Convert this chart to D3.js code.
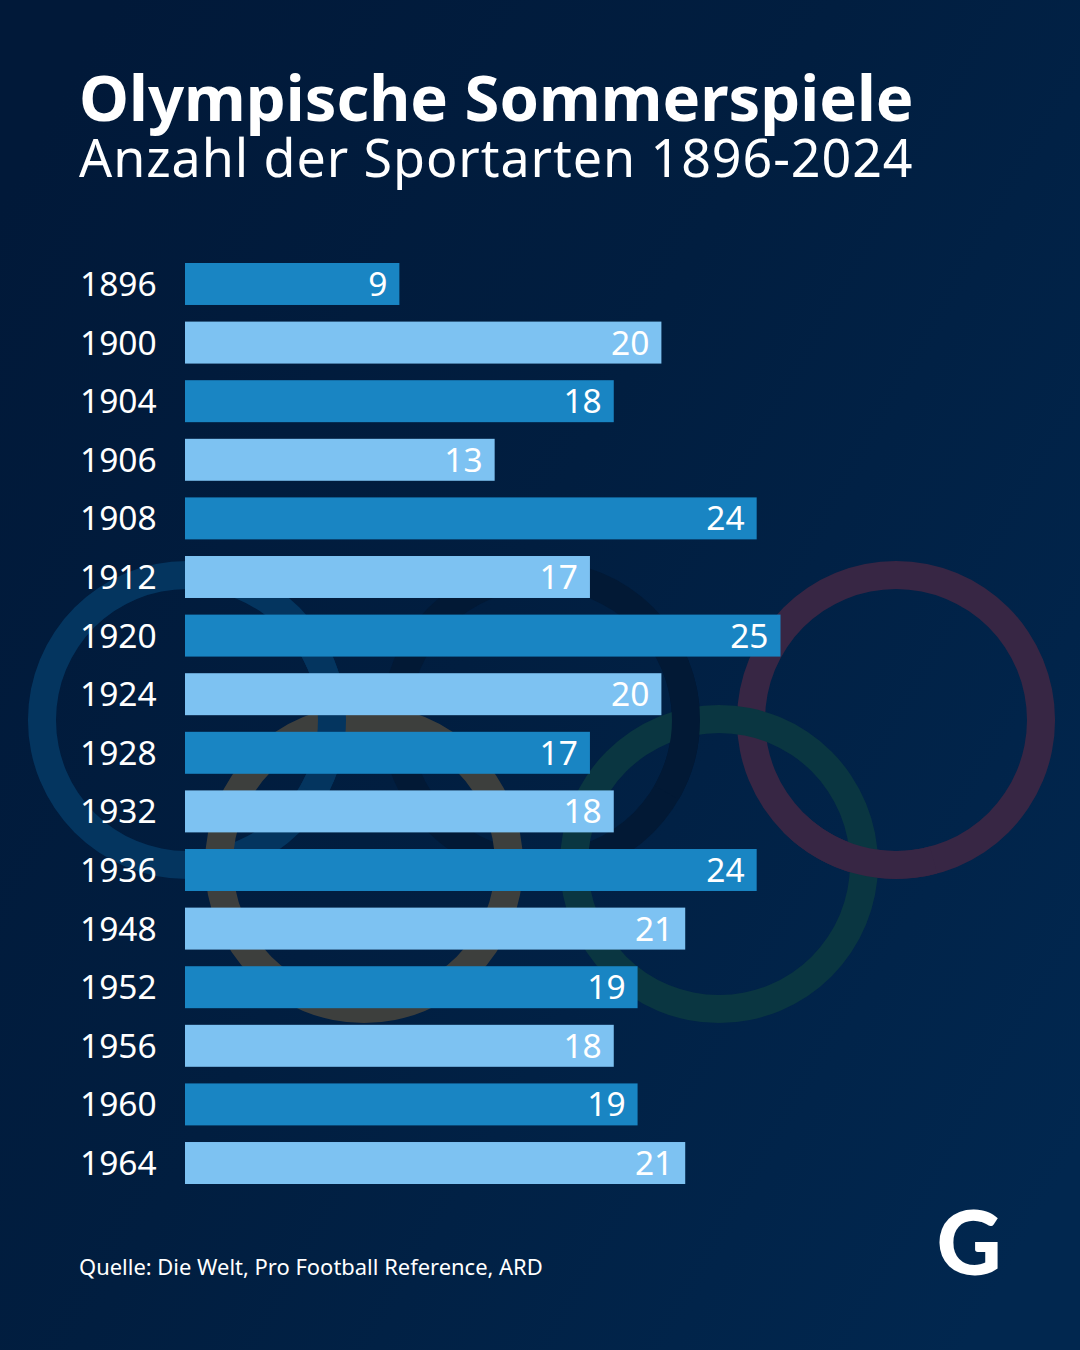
<!DOCTYPE html>
<html lang="de">
<head>
<meta charset="utf-8">
<title>Olympische Sommerspiele</title>
<script src="https://cdn.jsdelivr.net/npm/d3@7"></script>
<style>
  html, body { margin: 0; padding: 0; background: #01203f; }
  svg { display: block; font-family: "Noto Sans", sans-serif; }
</style>
</head>
<body>
<svg id="vis" width="1080" height="1350"></svg>
<script>
// Jahre und Anzahl der Sportarten
const years = ["1896", "1900", "1904", "1906", "1908", "1912", "1920", "1924",
               "1928", "1932", "1936", "1948", "1952", "1956", "1960", "1964"];
const sports = [9, 20, 18, 13, 24, 17, 25, 20, 17, 18, 24, 21, 19, 18, 19, 21];

const titleText = "Olympische Sommerspiele";
const subtitleText = "Anzahl der Sportarten 1896-2024";
const sourceText = "Quelle: Die Welt, Pro Football Reference, ARD";

const barColors = ["#1985c3", "#7dc2f2"];

var svg = d3.select("#vis");

// Hintergrund
var grad = svg.append("defs").append("linearGradient")
    .attr("id", "bg")
    .attr("x1", 0).attr("y1", 0.15)
    .attr("x2", 1).attr("y2", 0.85);
grad.append("stop").attr("offset", "0%").attr("stop-color", "#011939");
grad.append("stop").attr("offset", "45%").attr("stop-color", "#011e40");
grad.append("stop").attr("offset", "100%").attr("stop-color", "#01274f");

svg.append("rect")
    .attr("width", 1080).attr("height", 1350)
    .attr("fill", "url(#bg)");

// Olympische Ringe im Hintergrund
const ringR = 145, ringW = 28;
var rings = {
    blue:   { cx: 187, cy: 720, color: "#04355f" },
    black:  { cx: 541, cy: 720, color: "#021935" },
    purple: { cx: 896, cy: 720, color: "#372644" },
    yellow: { cx: 364, cy: 864, color: "#3d3f3d" },
    green:  { cx: 719, cy: 864, color: "#0a3641" }
};

var ringLayer = svg.append("g");
var ringArc = d3.arc()
    .innerRadius(ringR - ringW / 2)
    .outerRadius(ringR + ringW / 2);

function drawRing(name, from, to) {
    ringLayer.append("path")
        .attr("transform", `translate(${rings[name].cx},${rings[name].cy})`)
        .attr("fill", rings[name].color)
        .attr("d", ringArc({ startAngle: from * Math.PI / 180, endAngle: to * Math.PI / 180 }));
}

["blue", "black", "purple", "yellow", "green"].forEach(function(d) {
    drawRing(d, 0, 360);
});
// Verschraenkung der Ringe
drawRing("blue", 60, 120);
drawRing("black", 60, 120);
drawRing("purple", 165, 225);

// Skalen
var x = d3.scaleLinear().domain([0, 25]).range([185, 780.5]);
var y = d3.scaleBand().domain(years).range([263, 1184]).paddingInner(0.2836);

svg.append("g").selectAll("rect")
    .data(years)
    .join("rect")
    .attr("x", x(0))
    .attr("y", d => y(d))
    .attr("width", (d, i) => x(sports[i]) - x(0))
    .attr("height", y.bandwidth())
    .attr("fill", (d, i) => barColors[i % 2]);

// Jahreszahlen
var yAxis = svg.append("g")
    .attr("transform", `translate(${x(0)},0)`)
    .call(d3.axisLeft(y).tickSize(0));
yAxis.select(".domain").remove();
yAxis.selectAll("text")
    .attr("x", 80 - x(0))
    .attr("dy", "0.36em")
    .attr("text-anchor", "start")
    .attr("fill", "#fff")
    .style("font-family", "'Noto Sans', sans-serif")
    .style("font-size", "33.5px");

// Werte in den Balken
svg.append("g").selectAll("text")
    .data(years)
    .join("text")
    .attr("x", (d, i) => x(sports[i]) - 12)
    .attr("y", d => y(d) + y.bandwidth() / 2)
    .attr("dy", "0.36em")
    .attr("text-anchor", "end")
    .attr("fill", "#fff")
    .style("font-size", "33.5px")
    .text((d, i) => sports[i]);

// Titel
svg.append("text")
    .attr("x", 79).attr("y", 121)
    .attr("fill", "#fff")
    .style("font-size", "63.3px")
    .style("font-weight", 700)
    .text(titleText);

svg.append("text")
    .attr("x", 79).attr("y", 177)
    .attr("fill", "#fff")
    .style("font-size", "52px")
    .style("letter-spacing", "0.93px")
    .text(subtitleText);

// Quelle
svg.append("text")
    .attr("x", 79).attr("y", 1275)
    .attr("fill", "#fff")
    .style("font-size", "21.95px")
    .text(sourceText);

// Logo
svg.append("text")
    .attr("x", 969).attr("y", 1275)
    .attr("text-anchor", "middle")
    .attr("fill", "#fff")
    .style("font-family", "Lato, sans-serif")
    .style("font-size", "90px")
    .style("font-weight", 900)
    .text("G");
</script>
</body>
</html>
